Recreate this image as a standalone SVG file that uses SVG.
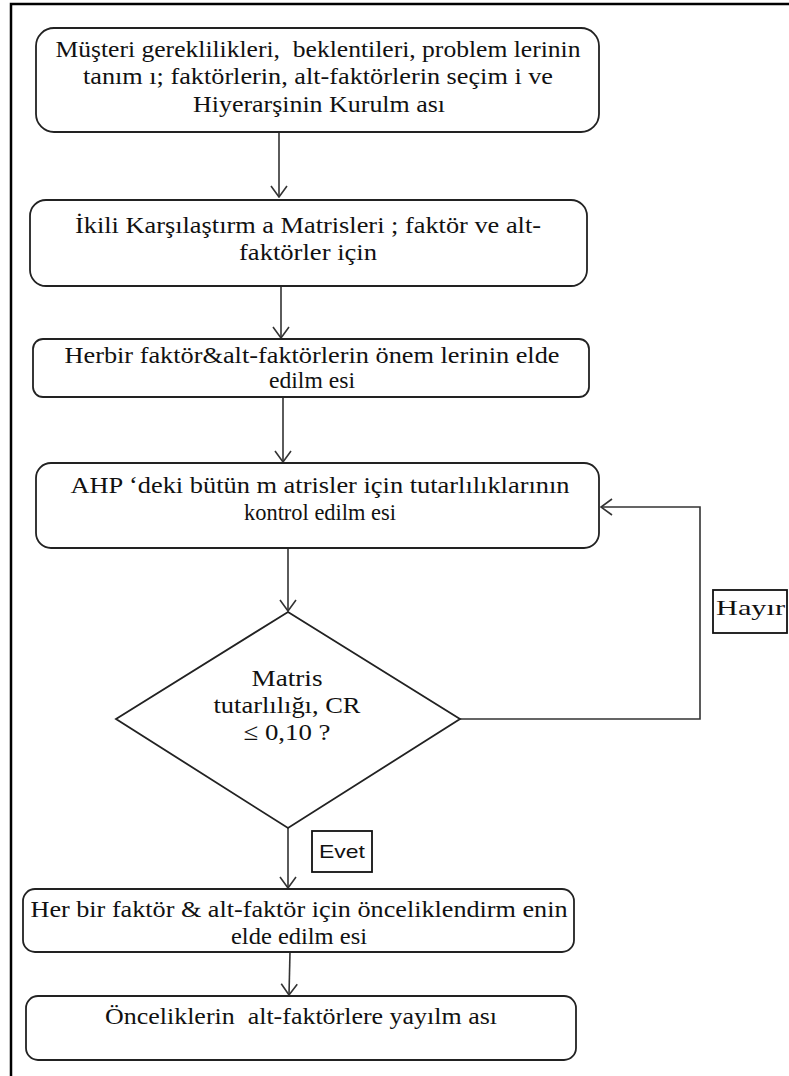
<svg xmlns="http://www.w3.org/2000/svg" width="789" height="1076" viewBox="0 0 789 1076">
<style>
.box{fill:#fff;stroke:#222;stroke-width:1.8}
.t{font-size:24px;fill:#111;text-anchor:middle}
.lbl{fill:#fff;stroke:#111;stroke-width:1.8}
.c{fill:none;stroke:#333;stroke-width:1.6}
</style>
<defs>
<marker id="ah" markerUnits="userSpaceOnUse" markerWidth="20" markerHeight="20" viewBox="0 0 20 20" refX="19" refY="10" orient="auto">
<path d="M8,2 L19,10 L8,18" fill="none" stroke="#333" stroke-width="1.6"/>
</marker>
</defs>
<rect width="789" height="1076" fill="#fff"/>
<path d="M11,1076 L11,4 L789,4" fill="none" stroke="#000" stroke-width="2.5"/>

<g id="connectors">
<line class="c" x1="279" y1="132" x2="279" y2="197" marker-end="url(#ah)"/>
<line class="c" x1="281" y1="286" x2="281" y2="338" marker-end="url(#ah)"/>
<line class="c" x1="283" y1="397" x2="283" y2="462" marker-end="url(#ah)"/>
<line class="c" x1="288" y1="548" x2="288" y2="611" marker-end="url(#ah)"/>
<polyline class="c" points="460,719 700,719 700,507 601,507" marker-end="url(#ah)"/>
<line class="c" x1="288" y1="828" x2="288" y2="888" marker-end="url(#ah)"/>
<line class="c" x1="290" y1="952" x2="289" y2="995" marker-end="url(#ah)"/>
</g>

<g id="nodes" font-family="Liberation Serif, Times New Roman, serif">
<g id="n1">
<rect class="box" x="36" y="28" width="563" height="104" rx="18"/>
<text class="t" x="318" y="57" textLength="525" lengthAdjust="spacingAndGlyphs" xml:space="preserve">Müşteri gereklilikleri,  beklentileri, problem lerinin</text>
<text class="t" x="318" y="84" textLength="470" lengthAdjust="spacingAndGlyphs">tanım ı; faktörlerin, alt-faktörlerin seçim i ve</text>
<text class="t" x="319" y="112" textLength="252" lengthAdjust="spacingAndGlyphs">Hiyerarşinin Kurulm ası</text>
</g>

<g id="n2">
<rect class="box" x="30" y="200" width="557" height="86" rx="16"/>
<text class="t" x="308" y="233" textLength="466" lengthAdjust="spacingAndGlyphs">İkili Karşılaştırm a Matrisleri ; faktör ve alt-</text>
<text class="t" x="308" y="260" textLength="138" lengthAdjust="spacingAndGlyphs">faktörler için</text>
</g>

<g id="n3">
<rect class="box" x="33" y="339" width="556" height="58" rx="10"/>
<text class="t" x="312" y="363" textLength="495" lengthAdjust="spacingAndGlyphs">Herbir faktör&amp;alt-faktörlerin önem lerinin elde</text>
<text class="t" x="312" y="388" textLength="86" lengthAdjust="spacingAndGlyphs">edilm esi</text>
</g>

<g id="n4">
<rect class="box" x="36" y="463" width="563" height="85" rx="15"/>
<text class="t" x="320" y="493" textLength="499" lengthAdjust="spacingAndGlyphs">AHP ‘deki bütün m atrisler için tutarlılıklarının</text>
<text class="t" x="320" y="520" textLength="152" lengthAdjust="spacingAndGlyphs">kontrol edilm esi</text>
</g>

<g id="decision">
<polygon class="box" points="288,612 460,719 288,828 116,719"/>
<text class="t" x="287" y="686" textLength="71" lengthAdjust="spacingAndGlyphs">Matris</text>
<text class="t" x="287" y="713" textLength="147" lengthAdjust="spacingAndGlyphs">tutarlılığı, CR</text>
<text class="t" x="287" y="740" textLength="87" lengthAdjust="spacingAndGlyphs">≤ 0,10 ?</text>
</g>

<g id="hayir">
<rect class="lbl" x="713" y="590" width="74" height="43"/>
<text x="716" y="615" font-size="22" fill="#111" textLength="69" lengthAdjust="spacingAndGlyphs">Hayır</text>
</g>

<g id="n5">
<rect class="box" x="23" y="889" width="551" height="63" rx="12"/>
<text class="t" x="299" y="917" textLength="537" lengthAdjust="spacingAndGlyphs">Her bir faktör &amp; alt-faktör için önceliklendirm enin</text>
<text class="t" x="299" y="944" textLength="136" lengthAdjust="spacingAndGlyphs">elde edilm esi</text>
</g>

<g id="n6">
<rect class="box" x="26" y="996" width="550" height="64" rx="12"/>
<text class="t" x="301" y="1024" textLength="392" lengthAdjust="spacingAndGlyphs" xml:space="preserve">Önceliklerin  alt-faktörlere yayılm ası</text>
</g>
</g>

<g id="evet">
<rect class="lbl" x="312" y="831" width="60" height="41"/>
<text x="342" y="858" font-family="Liberation Sans, Arial, sans-serif" font-size="19" fill="#111" text-anchor="middle" textLength="46" lengthAdjust="spacingAndGlyphs">Evet</text>
</g>
</svg>
